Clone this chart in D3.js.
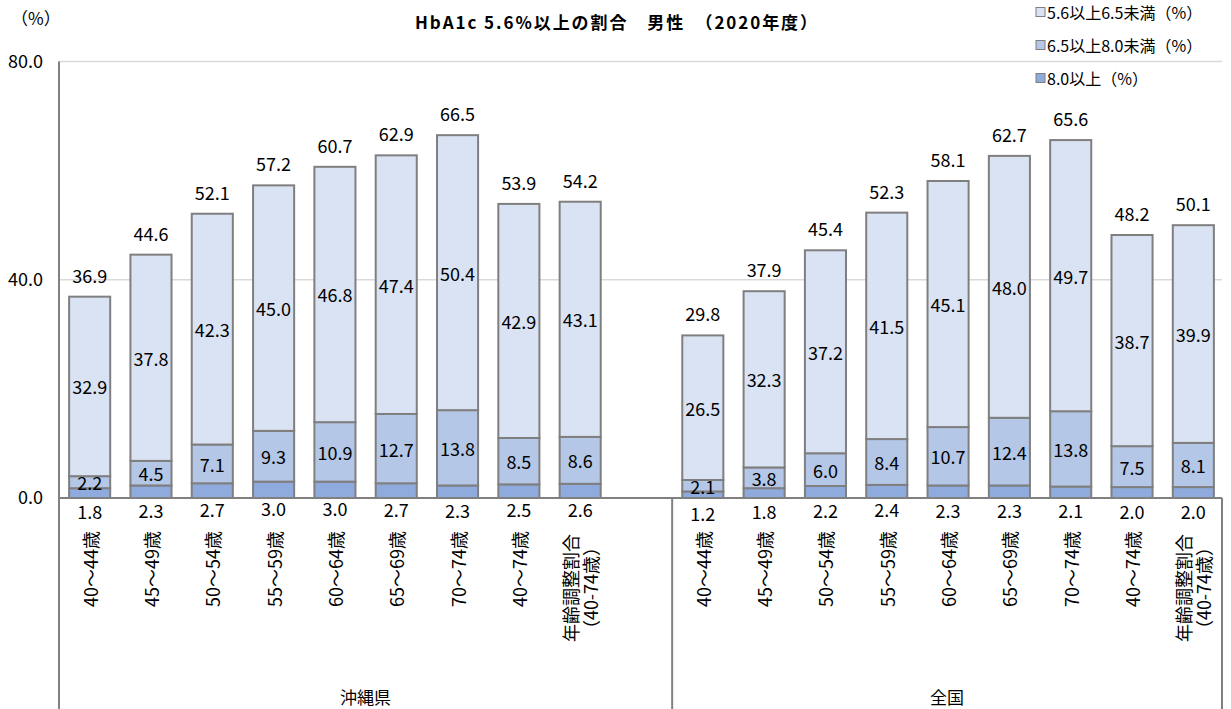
<!DOCTYPE html>
<html>
<head>
<meta charset="utf-8">
<script src="https://cdn.jsdelivr.net/npm/d3@7/dist/d3.min.js"></script>
<style>
  html, body { margin: 0; padding: 0; background: #fff; }
  svg { display: block; font-family: "Noto Sans CJK JP", "Noto Sans", sans-serif; }
</style>
</head>
<body>
<svg id="chart" width="1231" height="709"></svg>
<script>
// ---- data ----
const titleText = "HbA1c\u00a05.6%以上の割合\u3000男性\u3000（2020年度）";
const groups = ["沖縄県", "全国"];
const categories = ["40～44歳", "45～49歳", "50～54歳", "55～59歳", "60～64歳", "65～69歳", "70～74歳", "40～74歳", "年齢調整割合|（40-74歳）"];
const seriesNames = ["5.6以上6.5未満（%）", "6.5以上8.0未満（%）", "8.0以上（%）"];
const yTicks = [0, 40, 80];

const okinawaOver80 = [1.8, 2.3, 2.7, 3.0, 3.0, 2.7, 2.3, 2.5, 2.6];
const okinawa65to80 = [2.2, 4.5, 7.1, 9.3, 10.9, 12.7, 13.8, 8.5, 8.6];
const okinawa56to65 = [32.9, 37.8, 42.3, 45.0, 46.8, 47.4, 50.4, 42.9, 43.1];
const okinawaTotal = [36.9, 44.6, 52.1, 57.2, 60.7, 62.9, 66.5, 53.9, 54.2];

const zenkokuOver80 = [1.2, 1.8, 2.2, 2.4, 2.3, 2.3, 2.1, 2.0, 2.0];
const zenkoku65to80 = [2.1, 3.8, 6.0, 8.4, 10.7, 12.4, 13.8, 7.5, 8.1];
const zenkoku56to65 = [26.5, 32.3, 37.2, 41.5, 45.1, 48.0, 49.7, 38.7, 39.9];
const zenkokuTotal = [29.8, 37.9, 45.4, 52.3, 58.1, 62.7, 65.6, 48.2, 50.1];

// ---- build rows ----
const rows = [];
categories.forEach((c, i) => rows.push({key: "O" + i, group: 0, cat: c, low: okinawaOver80[i], mid: okinawa65to80[i], high: okinawa56to65[i], total: okinawaTotal[i]}));
const gapKey = "gap";
categories.forEach((c, i) => rows.push({key: "Z" + i, group: 1, cat: c, low: zenkokuOver80[i], mid: zenkoku65to80[i], high: zenkoku56to65[i], total: zenkokuTotal[i]}));
const slotKeys = rows.filter(r => r.group === 0).map(r => r.key).concat([gapKey], rows.filter(r => r.group === 1).map(r => r.key));

const colors = {high: "#DAE3F3", mid: "#B4C7E7", low: "#8FAADC"};
const strokeCol = "#7F7F7F";

// ---- layout ----
const left = 59, right = 1224, yTop = 61.5, yBase = 498, bottom = 709;
const svg = d3.select("#chart");

const x = d3.scaleBand().domain(slotKeys).range([left, right]).paddingInner(0.33).paddingOuter(0.165);
const y = d3.scaleLinear().domain([0, 80]).range([yBase, yTop]);

// gridlines
svg.append("g").selectAll("line").data(yTicks.filter(t => t > 0)).join("line")
  .attr("x1", left).attr("x2", right - 2)
  .attr("y1", d => y(d)).attr("y2", d => y(d))
  .attr("stroke", "#D9D9D9").attr("stroke-width", 1.5);

// y axis labels
const yAxis = d3.axisLeft(y).tickValues(yTicks).tickFormat(d3.format(".1f")).tickSize(0).tickPadding(16);
const yg = svg.append("g").attr("transform", `translate(${left},0)`).call(yAxis);
yg.select(".domain").remove();
yg.selectAll("text").attr("font-size", 18).attr("fill", "#000").attr("font-family", "'Noto Sans CJK JP'");

svg.append("text").attr("x", 11).attr("y", 25).attr("font-size", 17).text("（%）");

// stacked bars
const stackKeys = ["low", "mid", "high"];
const stacked = d3.stack().keys(stackKeys)(rows);
const bw = x.bandwidth();
stacked.forEach(layer => {
  svg.append("g").selectAll("rect").data(layer).join("rect")
    .attr("x", d => x(d.data.key))
    .attr("y", d => y(d[1]))
    .attr("width", bw)
    .attr("height", d => y(d[0]) - y(d[1]))
    .attr("fill", colors[layer.key])
    .attr("stroke", strokeCol).attr("stroke-width", 2);
});

// value labels
const labelG = svg.append("g").attr("font-size", 18).attr("text-anchor", "middle").attr("fill", "#000");
const fmt = d3.format(".1f");
stacked.forEach(layer => {
  labelG.selectAll(null).data(layer).join("text")
    .attr("x", d => x(d.data.key) + bw / 2)
    .attr("y", d => layer.key === "low" ? (y(d[0]) + y(d[1])) / 2 + 18 : (y(d[0]) + y(d[1])) / 2)
    .attr("dominant-baseline", "central")
    .text(d => fmt(d.data[layer.key]));
});
labelG.selectAll(null).data(rows).join("text")
  .attr("x", d => x(d.key) + bw / 2)
  .attr("y", d => y(d.low + d.mid + d.high) - 22)
  .attr("dominant-baseline", "central")
  .text(d => fmt(d.total));

// axes lines
svg.append("line").attr("x1", left).attr("x2", right - 2).attr("y1", yBase).attr("y2", yBase)
  .attr("stroke", "#808080").attr("stroke-width", 2);
svg.append("line").attr("x1", left).attr("x2", left).attr("y1", yTop).attr("y2", bottom)
  .attr("stroke", "#808080").attr("stroke-width", 2);
const sepX = [x(gapKey) + bw + (x.step() - bw) / 2, right - 2];
svg.append("g").selectAll("line").data(sepX).join("line")
  .attr("x1", d => d).attr("x2", d => d).attr("y1", yBase).attr("y2", bottom)
  .attr("stroke", "#808080").attr("stroke-width", 2);

// category labels (rotated)
const catG = svg.append("g").attr("font-size", 18).attr("fill", "#000");
rows.forEach(r => {
  const cx = x(r.key) + bw / 2;
  const parts = r.cat.split("|");
  if (parts.length === 1) {
    catG.append("text")
      .attr("transform", `translate(${cx},531) rotate(-90)`)
      .attr("text-anchor", "end").attr("dominant-baseline", "central")
      .text(parts[0]);
  } else {
    const t = catG.append("text")
      .attr("transform", `translate(${cx},588) rotate(-90)`)
      .attr("text-anchor", "middle");
    t.append("tspan").attr("x", 0).attr("y", -10).attr("dominant-baseline", "central").text(parts[0]);
    t.append("tspan").attr("x", 0).attr("y", 10).attr("dominant-baseline", "central").text(parts[1]);
  }
});

// group labels
const groupBounds = [[left, sepX[0]], [sepX[0], sepX[1]]];
svg.append("g").selectAll("text").data(groups).join("text")
  .attr("x", (d, i) => (groupBounds[i][0] + groupBounds[i][1]) / 2)
  .attr("y", 696).attr("text-anchor", "middle").attr("dominant-baseline", "central")
  .attr("font-size", 17).text(d => d);

// title
svg.append("text").attr("x", 415).attr("y", 29).attr("font-size", 17).attr("font-weight", "bold")
  .attr("textLength", 402).attr("lengthAdjust", "spacing")
  .text(titleText);

// legend
const legendColors = [colors.high, colors.mid, colors.low];
const lg = svg.append("g").attr("transform", "translate(1036,0)");
seriesNames.forEach((s, i) => {
  const yy = 12 + i * 33;
  lg.append("rect").attr("x", 0).attr("y", yy - 4.5).attr("width", 9).attr("height", 9)
    .attr("fill", legendColors[i]).attr("stroke", strokeCol).attr("stroke-width", 1);
  lg.append("text").attr("x", 11).attr("y", yy).attr("dominant-baseline", "central")
    .attr("font-size", 16).text(s);
});
</script>
</body>
</html>
